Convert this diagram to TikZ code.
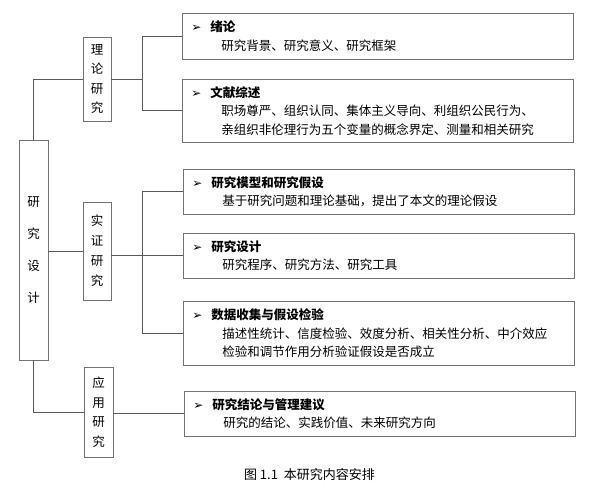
\documentclass[tikz,border=0pt]{standalone}
\usepackage{fontspec}
\setmainfont{Noto Sans CJK SC}
\newfontfamily\dejavu{DejaVu Sans}

\newcommand\puce{\makebox[19pt][l]{\dejavu\fontsize{12}{12}\selectfont ➢}}
\newcommand\retrait{\hspace*{30pt}}

\begin{document}
\begin{tikzpicture}[x=1pt,y=-1pt,
    trait/.style={draw=black!65, line width=0.8pt},
    colonne/.style={draw=black!55, line width=0.7pt, align=center, inner sep=0pt},
    bloc/.style={draw=black!55, line width=0.7pt, anchor=north west,
      minimum width=391pt, text width=373pt, inner xsep=9pt, inner ysep=0pt,
      align=left, font=\fontsize{12.5}{18.5}\selectfont}]

      \useasboundingbox (0,0) rectangle (594,489);

      %colonne principale
      \node[colonne, minimum width=29pt, minimum height=220pt,
        font=\fontsize{12.5}{32}\selectfont] (design) at (33.5,250) {研\\究\\设\\计};

      %colonnes intermediaires
      \node[colonne, minimum width=28pt, minimum height=84pt,
        font=\fontsize{12.5}{19.5}\selectfont] (theorie) at (97,79) {理\\论\\研\\究};
      \node[colonne, minimum width=28pt, minimum height=98pt,
        font=\fontsize{12.5}{20}\selectfont] (shiji) at (97,251) {实\\证\\研\\究};
      \node[colonne, minimum width=29pt, minimum height=90pt,
        font=\fontsize{12.5}{19.5}\selectfont] (yingyong) at (98.5,412) {应\\用\\研\\究};

      %blocs de droite
      \node[bloc, minimum height=46pt] (xulun) at (182,13)
        {\puce\textbf{绪论}\\\retrait 研究背景、研究意义、研究框架};
      \node[bloc, minimum height=63pt] (wenxian) at (182,79)
        {\puce\textbf{文献综述}\\\retrait 职场尊严、组织认同、集体主义导向、利组织公民行为、\\\retrait 亲组织非伦理行为五个变量的概念界定、测量和相关研究};
      \node[bloc, minimum height=45pt] (moxing) at (183,169)
        {\puce\textbf{研究模型和研究假设}\\\retrait 基于研究问题和理论基础，提出了本文的理论假设};
      \node[bloc, minimum height=45pt] (sheji) at (183,233)
        {\puce\textbf{研究设计}\\\retrait 研究程序、研究方法、研究工具};
      \node[bloc, minimum height=64pt] (shuju) at (183,301)
        {\puce\textbf{数据收集与假设检验}\\\retrait 描述性统计、信度检验、效度分析、相关性分析、中介效应\\\retrait 检验和调节作用分析验证假设是否成立};
      \node[bloc, minimum height=45pt, minimum width=390pt] (jielun) at (184,391)
        {\puce\textbf{研究结论与管理建议}\\\retrait 研究的结论、实践价值、未来研究方向};

      %liaisons
      \draw[trait] (design.north) |- (theorie.west);
      \draw[trait] (theorie.east) -- ([xshift=31pt]theorie.east);
      \draw[trait] (xulun.west) -| ([xshift=31pt]theorie.east) |- (wenxian.west);

      \draw[trait] (design.east |- shiji.west) -- (shiji.west);
      \draw[trait] (shiji.east |- sheji.west) -- (sheji.west);
      \draw[trait] (moxing.west) -| ([xshift=31pt]shiji.east) |- (shuju.west);

      \draw[trait] (design.south) |- (yingyong.west);
      \draw[trait] (yingyong.east |- jielun.west) -- (jielun.west);

      %legende
      \node[font=\fontsize{13}{15}\selectfont] (legende) at (309.5,475) {图 1.1\hspace{6pt}本研究内容安排};
    \end{tikzpicture}
\end{document}
